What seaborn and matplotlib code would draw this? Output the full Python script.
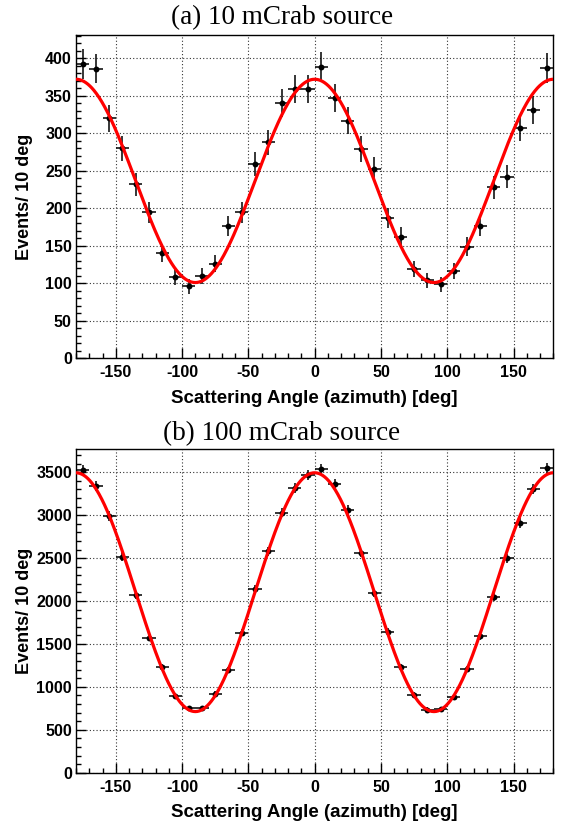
import numpy as np
import pandas as pd
import matplotlib
matplotlib.use("Agg")
import matplotlib.pyplot as plt
from matplotlib.ticker import MultipleLocator
import seaborn as sns

# ---- data ----
angles = [-175, -165, -155, -145, -135, -125, -115, -105, -95, -85, -75, -65,
          -55, -45, -35, -25, -15, -5, 5, 15, 25, 35, 45, 55, 65, 75, 85, 95,
          105, 115, 125, 135, 145, 155, 165, 175]

counts_10mcrab = [392, 386, 320, 280, 232, 195, 140, 108, 96, 110, 126, 177,
                  195, 259, 288, 340, 359, 359, 389, 347, 317, 279, 252, 187,
                  162, 119, 104, 99, 116, 149, 177, 228, 242, 307, 331, 387]

counts_100mcrab = [3521, 3342, 2992, 2517, 2066, 1572, 1226, 899, 755, 755, 918, 1202,
                   1630, 2144, 2580, 3031, 3315, 3463, 3541, 3362, 3066, 2560, 2089, 1642,
                   1226, 910, 735, 743, 887, 1206, 1591, 2043, 2498, 2910, 3300, 3545]

# fitted modulation curve parameters: N(phi) = A + B*cos(2*phi)
fit_10mcrab = (236.5, 135.5)
fit_100mcrab = (2103.0, 1391.0)

bin_half_width = 5
titles = ["(a) 10 mCrab source", "(b) 100 mCrab source"]
ylims = [431, 3771]
ymajor = [50, 500]
yminor = [10, 100]
xlabel = "Scattering Angle (azimuth) [deg]"
ylabel = "Events/ 10 deg"

sns.set_theme(style="white")
plt.rcParams['font.family'] = ['Liberation Sans', 'DejaVu Sans']
plt.rcParams['axes.unicode_minus'] = False
plt.rcParams['text.color'] = 'black'
plt.rcParams['axes.labelcolor'] = 'black'
plt.rcParams['xtick.color'] = 'black'
plt.rcParams['ytick.color'] = 'black'

W, H = 564, 821
fig = plt.figure(figsize=(W / 100, H / 100), dpi=100)

def fx(px):
    return px / W

def fy(py):
    return 1 - py / H

axes_px = [(76, 35, 553.3, 358.3), (76, 449, 553.3, 772.7)]
title_y = [18, 434]

for i, (counts, fit) in enumerate([(counts_10mcrab, fit_10mcrab),
                                    (counts_100mcrab, fit_100mcrab)]):
    l, t, r, b = axes_px[i]
    ax = fig.add_axes([fx(l), fy(b), fx(r - l), (b - t) / H])
    df = pd.DataFrame({"angle": angles, "counts": counts})
    df["err"] = np.sqrt(df["counts"])

    phi = np.linspace(-180, 180, 721)
    curve = pd.DataFrame({"angle": phi,
                          "fit": fit[0] + fit[1] * np.cos(np.radians(2 * phi))})

    ax.grid(True, which="major", color="#333333", linestyle=(0, (1, 2)), linewidth=0.8)
    ax.set_axisbelow(True)

    ax.errorbar(df["angle"], df["counts"], xerr=bin_half_width, yerr=df["err"],
                fmt="none", ecolor="black", elinewidth=1.1, capsize=0, zorder=3)
    sns.scatterplot(data=df, x="angle", y="counts", ax=ax, color="black",
                    s=18, edgecolor="black", linewidth=0, zorder=4)
    sns.lineplot(data=curve, x="angle", y="fit", ax=ax, color="#ff0000",
                 linewidth=2.3, zorder=5)

    ax.set_xlim(-180, 180)
    ax.set_ylim(0, ylims[i])
    ax.xaxis.set_major_locator(MultipleLocator(50))
    ax.xaxis.set_minor_locator(MultipleLocator(10))
    ax.yaxis.set_major_locator(MultipleLocator(ymajor[i]))
    ax.yaxis.set_minor_locator(MultipleLocator(yminor[i]))
    ax.tick_params(axis="both", which="both", direction="in", top=False, right=False,
                   bottom=True, left=True, color="black")
    ax.tick_params(axis="x", which="major", length=7.5, width=1, pad=5,
                   labelsize=11.5)
    ax.tick_params(axis="x", which="minor", length=3.8, width=1)
    ax.tick_params(axis="y", which="major", length=7.5, width=1, pad=3,
                   labelsize=11.5)
    ax.tick_params(axis="y", which="minor", length=3.8, width=1)
    for lab in ax.get_xticklabels() + ax.get_yticklabels():
        lab.set_fontweight("bold")
    for sp in ax.spines.values():
        sp.set_color("black")
        sp.set_linewidth(1.0)

    ax.set_xlabel(xlabel, fontsize=13.5, fontweight="bold", labelpad=7)
    ax.set_ylabel(ylabel, fontsize=13, fontweight="bold")
    ax.yaxis.set_label_coords(-(l - 33) / (r - l), 0.5)

    fig.text(0.5, fy(title_y[i]), titles[i], ha="center", va="center",
             fontsize=19.5, family=["Liberation Serif", "DejaVu Serif"])

fig.savefig("out.png", dpi=100)
